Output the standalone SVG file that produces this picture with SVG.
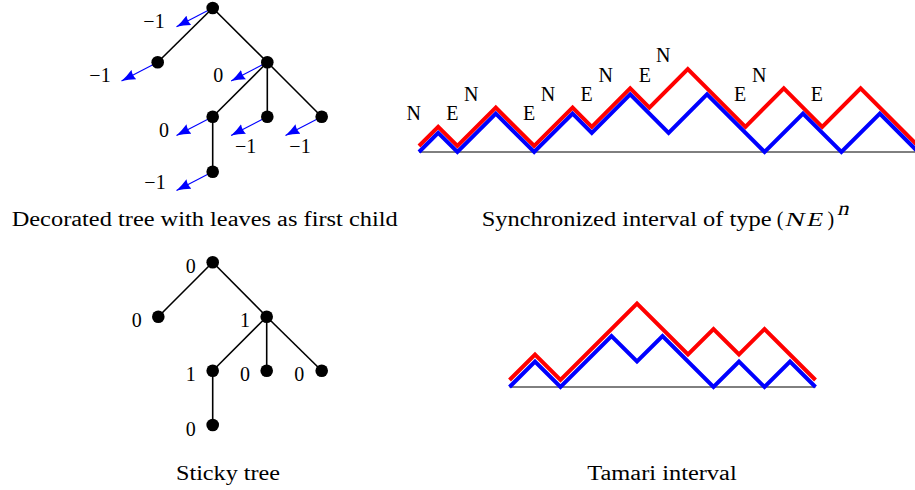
<svg xmlns="http://www.w3.org/2000/svg" width="915" height="490" viewBox="0 0 915 490">
<style>
  text { font-family: "Liberation Serif", "Times New Roman", serif; font-size: 20px; fill: #000; }
  .lbl { text-anchor: middle; }
  .edge { stroke: #000; stroke-width: 1.6; fill: none; }
  .arrow { stroke: #0000ff; stroke-width: 1.1; fill: none; marker-end: url(#ah); }
  .dot { fill: #000; }
  .base { stroke: #000; stroke-width: 1; fill: none; }
  .red { stroke: #ff0000; stroke-width: 4; fill: none; stroke-linejoin: miter; }
  .blue { stroke: #0000ff; stroke-width: 4; fill: none; stroke-linejoin: miter; }
</style>
<defs>
  <marker id="ah" markerUnits="userSpaceOnUse" markerWidth="15" markerHeight="11" refX="14" refY="5.3" orient="auto" viewBox="0 0 15 11">
    <path d="M0,0 Q7,3.5 14,5.3 Q7,7.1 0,10.6 Q2,5.3 0,0 z" fill="#0000ff"/>
  </marker>
</defs>
<rect width="915" height="490" fill="#fff"/>

<!-- connectors -->
<g id="connectors">
  <line class="edge" x1="212.7" y1="8" x2="157.7" y2="62.3"/>
  <line class="edge" x1="212.7" y1="8" x2="267.3" y2="62.3"/>
  <line class="edge" x1="267.3" y1="62.3" x2="212.7" y2="116.7"/>
  <line class="edge" x1="267.3" y1="62.3" x2="267.3" y2="116.7"/>
  <line class="edge" x1="267.3" y1="62.3" x2="321.7" y2="116.7"/>
  <line class="edge" x1="212.7" y1="116.7" x2="212.7" y2="171.7"/>

  <line class="arrow" x1="212.7" y1="8" x2="176.5" y2="26.7"/>
  <line class="arrow" x1="157.7" y1="62.3" x2="121.5" y2="81"/>
  <line class="arrow" x1="267.3" y1="62.3" x2="231.1" y2="81"/>
  <line class="arrow" x1="212.7" y1="116.7" x2="176.5" y2="135.4"/>
  <line class="arrow" x1="267.3" y1="116.7" x2="231.1" y2="135.4"/>
  <line class="arrow" x1="321.7" y1="116.7" x2="285.5" y2="135.4"/>
  <line class="arrow" x1="212.7" y1="171.7" x2="176.5" y2="190.4"/>

  <line class="edge" x1="212.7" y1="262.3" x2="158.3" y2="316.7"/>
  <line class="edge" x1="212.7" y1="262.3" x2="266.7" y2="316.7"/>
  <line class="edge" x1="266.7" y1="316.7" x2="212.7" y2="370.7"/>
  <line class="edge" x1="266.7" y1="316.7" x2="266.7" y2="370.7"/>
  <line class="edge" x1="266.7" y1="316.7" x2="321.7" y2="370.7"/>
  <line class="edge" x1="212.7" y1="370.7" x2="212.7" y2="425"/>
</g>

<!-- decorated tree -->
<g id="t0"><circle class="dot" cx="212.7" cy="8" r="6.3"/><text class="lbl" x="154" y="28">−1</text></g>
<g id="t1"><circle class="dot" cx="157.7" cy="62.3" r="6.3"/><text class="lbl" x="100" y="82">−1</text></g>
<g id="t2"><circle class="dot" cx="267.3" cy="62.3" r="6.3"/><text class="lbl" x="218.3" y="81.5">0</text></g>
<g id="t3"><circle class="dot" cx="212.7" cy="116.7" r="6.3"/><text class="lbl" x="164" y="136.5">0</text></g>
<g id="t4"><circle class="dot" cx="267.3" cy="116.7" r="6.3"/><text class="lbl" x="245.7" y="153">−1</text></g>
<g id="t5"><circle class="dot" cx="321.7" cy="116.7" r="6.3"/><text class="lbl" x="300" y="153">−1</text></g>
<g id="t6"><circle class="dot" cx="212.7" cy="171.7" r="6.3"/><text class="lbl" x="155" y="189">−1</text></g>

<!-- sticky tree -->
<g id="s0"><circle class="dot" cx="212.7" cy="262.3" r="6.3"/><text class="lbl" x="190.7" y="272.5">0</text></g>
<g id="s1"><circle class="dot" cx="158.3" cy="316.7" r="6.3"/><text class="lbl" x="136.7" y="327">0</text></g>
<g id="s2"><circle class="dot" cx="266.7" cy="316.7" r="6.3"/><text class="lbl" x="245" y="326.5">1</text></g>
<g id="s3"><circle class="dot" cx="212.7" cy="370.7" r="6.3"/><text class="lbl" x="190.7" y="380.5">1</text></g>
<g id="s4"><circle class="dot" cx="266.7" cy="370.7" r="6.3"/><text class="lbl" x="245" y="381">0</text></g>
<g id="s5"><circle class="dot" cx="321.7" cy="370.7" r="6.3"/><text class="lbl" x="299.3" y="381">0</text></g>
<g id="s6"><circle class="dot" cx="212.7" cy="425" r="6.3"/><text class="lbl" x="190.7" y="435.5">0</text></g>

<!-- synchronized interval -->
<g id="sync">
  <line class="base" x1="419" y1="152" x2="915" y2="152"/>
  <polyline class="red" points="419,146 438.2,126.8 457.4,146 495.8,107.6 534.2,146 572.6,107.6 591.8,126.8 630.2,88.4 649.4,107.6 687.8,69.2 745.4,126.8 783.8,88.4 822.2,126.8 860.6,88.4 918.2,146"/>
  <polyline class="blue" points="419,152 438.2,132.8 457.4,152 495.8,113.6 534.2,152 572.6,113.6 591.8,132.8 630.2,94.4 668.6,132.8 707,94.4 764.6,152 803,113.6 841.4,152 879.8,113.6 918.2,152"/>
  <text class="lbl" x="413.7" y="120">N</text>
  <text class="lbl" x="452.3" y="120">E</text>
  <text class="lbl" x="471.2" y="100.8">N</text>
  <text class="lbl" x="529.2" y="120">E</text>
  <text class="lbl" x="547.9" y="100.8">N</text>
  <text class="lbl" x="586.7" y="100.8">E</text>
  <text class="lbl" x="605.8" y="81.6">N</text>
  <text class="lbl" x="644.8" y="81.6">E</text>
  <text class="lbl" x="663.3" y="62.4">N</text>
  <text class="lbl" x="740.2" y="100.8">E</text>
  <text class="lbl" x="759.3" y="81.6">N</text>
  <text class="lbl" x="816.8" y="100.8">E</text>
</g>

<!-- tamari interval -->
<g id="tamari">
  <line class="base" x1="509.5" y1="387" x2="815.5" y2="387"/>
  <polyline class="red" points="509.5,380 535,354.5 560.5,380 637,303.5 688,354.5 713.5,329 739,354.5 764.5,329 815.5,380"/>
  <polyline class="blue" points="509.5,387 535,361.5 560.5,387 611.5,336 637,361.5 662.5,336 713.5,387 739,361.5 764.5,387 790,361.5 815.5,387"/>
</g>

<!-- captions -->
<g id="captions">
  <text x="11.7" y="226" textLength="386" lengthAdjust="spacingAndGlyphs">Decorated tree with leaves as first child</text>
  <text x="481.7" y="226" textLength="290" lengthAdjust="spacingAndGlyphs">Synchronized interval of type</text>
  <text x="776.7" y="226">(</text>
  <text transform="translate(784.5,226) skewX(-14) scale(1.3,1)" x="0" y="0">N</text>
  <text transform="translate(806,226) skewX(-14) scale(1.3,1)" x="0" y="0">E</text>
  <text x="827.5" y="226">)</text>
  <text transform="translate(837,215) skewX(-14) scale(1.15,1)" x="0" y="0" font-size="14">n</text>
  <text x="176" y="480" textLength="104" lengthAdjust="spacingAndGlyphs">Sticky tree</text>
  <text x="587.3" y="480" textLength="149.4" lengthAdjust="spacingAndGlyphs">Tamari interval</text>
</g>
</svg>
